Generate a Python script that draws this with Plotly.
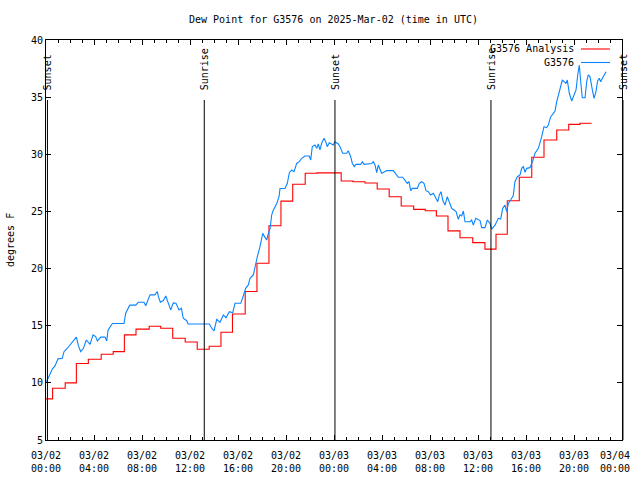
import plotly.graph_objects as go

# ---------------- data ----------------
# hours since 2025-03-02 00:00 UTC
analysis_hours = [0.0, 0.55, 1.6, 2.53, 3.53, 4.6, 5.6, 6.53, 7.5, 8.6, 9.56, 10.56, 11.6,
                  12.6, 13.6, 14.58, 15.54, 16.6, 17.58, 18.58, 19.58, 20.56, 21.6, 22.56,
                  23.55, 24.6, 25.58, 26.58, 27.6, 28.6, 29.6, 30.64, 31.6, 32.53, 33.5,
                  34.5, 35.56, 36.58, 37.5, 38.44, 39.44, 40.48, 41.5, 42.56, 43.56, 44.5,
                  45.47]
analysis_dewpt = [8.6, 9.53, 10.0, 11.7, 12.06, 12.5, 12.73, 14.2, 14.7, 14.95, 14.78, 13.9,
                  13.58, 12.94, 13.2, 14.43, 16.03, 18.0, 20.46, 23.75, 25.9, 27.38, 28.34,
                  28.37, 28.37, 27.66, 27.6, 27.49, 26.96, 26.29, 25.48, 25.18, 25.06, 24.6,
                  23.3, 22.7, 22.27, 21.7, 23.0, 25.94, 27.99, 29.74, 31.25, 32.13, 32.62,
                  32.71, 32.71]

obs_hours = [0.04, 0.31, 0.53, 0.75, 1.0, 1.36, 1.5, 1.78, 2.06, 2.39, 2.53, 2.69, 2.89, 3.11,
             3.36, 3.67, 3.92, 4.14, 4.28, 4.56, 4.92, 5.06, 5.17, 5.53, 6.5, 6.64, 6.98, 7.48,
             7.69, 8.17, 8.31, 8.67, 9.06, 9.28, 9.36, 9.53, 9.78, 9.98, 10.17, 10.39, 10.61,
             10.83, 11.08, 11.28, 11.44, 11.73, 11.83, 13.61, 13.81, 14.0, 14.23, 14.5, 14.78,
             15.0, 15.28, 15.56, 15.75, 16.23, 16.44, 16.64, 16.86, 17.0, 17.28, 17.42, 17.61,
             17.83, 18.06, 18.25, 18.39, 18.53, 18.67, 18.81, 18.94, 19.23, 19.42, 19.5, 19.92,
             20.11, 20.28, 20.48, 20.67, 20.89, 21.11, 21.31, 21.58, 21.94, 22.06, 22.19, 22.42,
             22.56, 22.69, 22.83, 22.97, 23.17, 23.31, 23.44, 23.61, 23.94, 24.08, 24.36, 24.5,
             24.72, 25.06, 25.19, 25.39, 25.53, 25.69, 25.83, 26.22, 26.36, 26.5, 27.14, 27.28,
             27.42, 27.56, 27.69, 27.83, 27.97, 28.11, 28.39, 28.94, 29.14, 29.36, 29.72, 29.92,
             30.11, 30.25, 30.39, 30.53, 30.94, 31.11, 31.31, 31.5, 31.67, 31.86, 32.06, 32.28,
             32.5, 32.64, 32.78, 32.92, 33.06, 33.25, 33.44, 33.61, 33.81, 34.0, 34.17, 34.36,
             34.5, 34.64, 34.78, 34.92, 35.33, 35.47, 35.61, 35.81, 35.94, 36.17, 36.31, 36.58,
             36.78, 37.0, 37.14, 37.42, 37.69, 37.89, 38.06, 38.25, 38.39, 38.53, 38.72, 38.94,
             39.08, 39.28, 39.5, 39.64, 39.78, 39.92, 40.06, 40.33, 40.56, 40.75, 41.03, 41.17,
             41.31, 41.5, 41.72, 41.86, 42.06, 42.28, 42.42, 42.56, 42.75, 42.89, 43.03, 43.17,
             43.33, 43.44, 43.61, 43.81, 44.0, 44.17, 44.31, 44.44, 44.56, 44.69, 44.92, 45.06,
             45.19, 45.33, 45.53, 45.67, 45.83, 45.97, 46.11, 46.22, 46.39, 46.53, 46.67]
obs_dewpt = [10.1, 10.7, 11.2, 11.48, 12.1, 12.15, 12.73, 13.03, 13.4, 13.8, 14.0, 13.3, 12.73,
             13.0, 13.75, 13.37, 14.2, 14.05, 13.67, 14.0, 14.0, 13.67, 14.6, 15.2, 15.2, 16.1,
             16.8, 16.8, 17.05, 17.05, 16.75, 17.7, 17.7, 17.98, 17.54, 17.05, 17.2, 17.6, 16.96,
             16.38, 17.0, 16.96, 16.38, 16.53, 15.65, 15.44, 15.15, 15.15, 14.78, 14.54, 15.56,
             15.3, 15.94, 15.7, 16.23, 16.14, 16.96, 16.96, 17.6, 18.27, 18.57, 19.15, 19.44,
             20.17, 21.04, 21.9, 23.08, 22.73, 22.5, 23.08, 23.5, 24.7, 25.1, 25.7, 26.29, 27.0,
             27.0, 27.46, 28.39, 28.63, 28.48, 29.2, 29.36, 29.65, 29.85, 29.85, 29.5, 30.67,
             30.81, 30.52, 30.9, 30.38, 30.96, 31.4, 31.1, 30.67, 31.0, 30.81, 31.1, 30.9, 30.67,
             30.09, 30.09, 30.31, 29.79, 29.2, 28.92, 29.12, 29.12, 29.35, 29.12, 29.2, 29.35,
             29.06, 28.39, 29.06, 28.77, 28.34, 28.4, 28.57, 28.57, 28.34, 27.99, 27.99, 27.7,
             27.46, 27.6, 26.82, 27.02, 27.02, 27.46, 27.6, 27.46, 26.82, 26.73, 26.44, 26.58,
             26.15, 25.85, 26.44, 26.73, 26.0, 25.56, 26.29, 25.85, 25.27, 25.12, 24.98, 24.31,
             24.7, 24.6, 25.04, 24.1, 24.1, 24.25, 23.8, 24.4, 24.31, 24.2, 23.58, 23.58, 24.25,
             23.96, 23.46, 23.8, 24.4, 24.34, 25.27, 25.56, 24.98, 25.7, 26.0, 26.38, 27.6,
             28.04, 28.19, 28.77, 28.92, 28.43, 28.77, 28.83, 29.4, 30.09, 30.52, 30.96, 31.54,
             32.41, 32.33, 32.56, 33.29, 33.58, 33.79, 34.6, 35.34, 35.77, 36.5, 36.35, 36.2,
             36.5, 35.34, 34.66, 35.19, 35.63, 36.94, 37.81, 36.35, 34.95, 34.95, 36.35, 36.94,
             36.8, 35.63, 34.9, 35.48, 36.41, 36.65, 36.35, 36.7, 36.94, 37.23]

sun_event_hours = [0.12, 13.19, 24.08, 37.08, 48.08]
sun_event_labels = ["Sunset", "Sunrise", "Sunset", "Sunrise", "Sunset"]

x_tick_hours = [0, 4, 8, 12, 16, 20, 24, 28, 32, 36, 40, 44, 48]
x_tick_dates = ["03/02", "03/02", "03/02", "03/02", "03/02", "03/02", "03/03", "03/03",
                "03/03", "03/03", "03/03", "03/03", "03/04"]
x_tick_times = ["00:00", "04:00", "08:00", "12:00", "16:00", "20:00", "00:00", "04:00",
                "08:00", "12:00", "16:00", "20:00", "00:00"]
y_tick_values = [5, 10, 15, 20, 25, 30, 35, 40]

series_names = ["G3576 Analysis", "G3576"]
series_colors = ["#ff0000", "#0a84ff"]
title_text = "Dew Point for G3576 on 2025-Mar-02 (time in UTC)"
y_title = "degrees F"

# ---------------- layout geometry ----------------
W, H = 640, 480
L, R, T, B = 46, 622, 40, 440
X0, X1 = 0, 48
Y0, Y1 = 5, 40
FONT = "DejaVu Sans Mono"
FS = 10
LW = 1.1


def px_x(px):
    return (px - L) / (R - L)


def px_y(py):
    return (B - py) / (B - T)


fig = go.Figure()
fig.add_trace(go.Scatter(x=analysis_hours, y=analysis_dewpt, mode="lines",
                         line=dict(color=series_colors[0], width=LW, shape="hv"),
                         name=series_names[0], showlegend=False, hoverinfo="skip"))
fig.add_trace(go.Scatter(x=obs_hours, y=obs_dewpt, mode="lines",
                         line=dict(color=series_colors[1], width=LW),
                         name=series_names[1], showlegend=False, hoverinfo="skip"))

shapes = []
annotations = []

# sunrise / sunset markers
for h, lab in zip(sun_event_hours, sun_event_labels):
    xp = (h - X0) / (X1 - X0)
    shapes.append(dict(type="line", xref="paper", yref="paper", x0=xp, x1=xp,
                       y0=0, y1=px_y(100), line=dict(color="black", width=1)))
    annotations.append(dict(text=lab, xref="paper", yref="paper", x=xp, y=px_y(92),
                            xanchor="center", yanchor="bottom", textangle=-90,
                            showarrow=False, font=dict(family=FONT, size=FS, color="black")))

# x tick labels
for h, d, t in zip(x_tick_hours, x_tick_dates, x_tick_times):
    shift = -7 if h == X1 else 0
    annotations.append(dict(text=d + "<br>" + t, xref="x", yref="paper", x=h, y=px_y(448),
                            xanchor="center", yanchor="top", xshift=shift, showarrow=False,
                            align="center",
                            font=dict(family=FONT, size=FS, color="black")))

# legend
for i, (nm, col) in enumerate(zip(series_names, series_colors)):
    yy = 49 + i * 13.5
    annotations.append(dict(text=nm, xref="paper", yref="paper", x=px_x(576), y=px_y(yy),
                            xanchor="right", yanchor="middle", showarrow=False,
                            font=dict(family=FONT, size=FS, color="black")))
    shapes.append(dict(type="line", xref="paper", yref="paper", x0=px_x(581), x1=px_x(610),
                       y0=px_y(yy), y1=px_y(yy), line=dict(color=col, width=LW)))

# title and y label
annotations.append(dict(text=title_text, xref="paper", yref="paper", x=px_x(333), y=px_y(19),
                        xanchor="center", yanchor="middle", showarrow=False,
                        font=dict(family=FONT, size=FS, color="black")))
annotations.append(dict(text=y_title, xref="paper", yref="paper", x=px_x(10), y=0.5,
                        xanchor="center", yanchor="middle", textangle=-90, showarrow=False,
                        font=dict(family=FONT, size=FS, color="black")))

fig.update_layout(
    width=W, height=H,
    margin=dict(l=L, r=W - R, t=T, b=H - B, pad=0),
    paper_bgcolor="white", plot_bgcolor="white",
    showlegend=False, hovermode=False,
    shapes=shapes, annotations=annotations,
    xaxis=dict(range=[X0, X1], tickvals=x_tick_hours, showticklabels=False,
               ticks="inside", ticklen=5, tickcolor="black", tickwidth=1,
               minor=dict(dtick=1, ticks="inside", ticklen=3, tickcolor="black", tickwidth=1),
               showline=True, linecolor="black", linewidth=1, mirror="ticks",
               showgrid=False, zeroline=False),
    yaxis=dict(range=[Y0, Y1], tickvals=y_tick_values, ticks="inside", ticklen=5,
               tickcolor="black", tickwidth=1, showline=True, linecolor="black",
               linewidth=1, mirror="ticks", showgrid=False, zeroline=False,
               tickfont=dict(family=FONT, size=FS, color="black")),
)

fig.write_html("out.html", config={"displayModeBar": False, "staticPlot": True},
               post_script="document.body.style.margin='0';document.body.style.padding='0';")
